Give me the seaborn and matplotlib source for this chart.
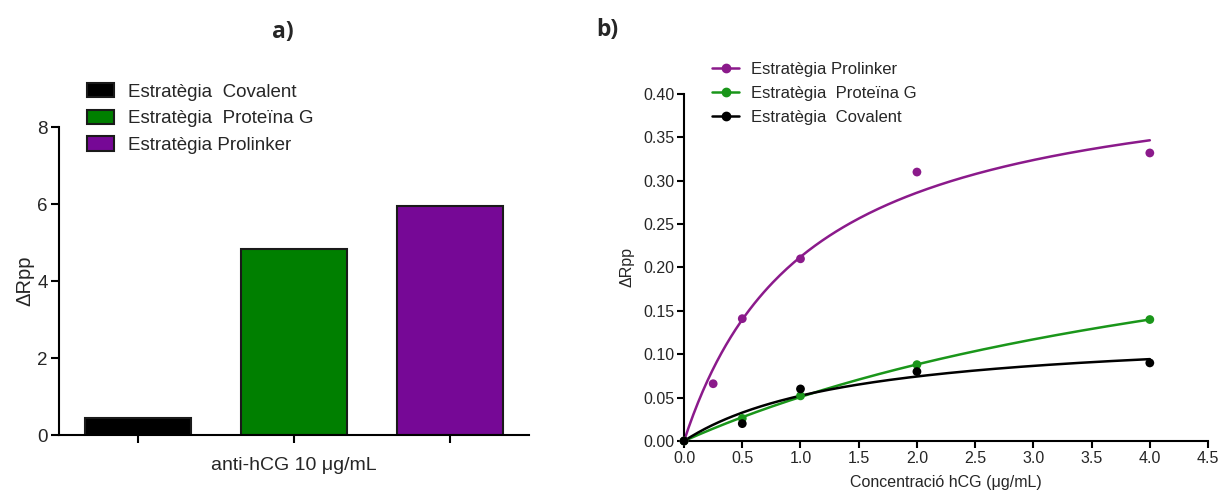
import numpy as np
import pandas as pd
import matplotlib
matplotlib.use("Agg")
import matplotlib.pyplot as plt
from matplotlib.lines import Line2D
from matplotlib.patches import Patch
from matplotlib.ticker import MultipleLocator, FormatStrFormatter
import seaborn as sns

# ---- panel a: response at 10 ug/mL anti-hCG ----
strategies_a = ["Estratègia  Covalent", "Estratègia  Proteïna G", "Estratègia Prolinker"]
delta_rpp_a = [0.43, 4.83, 5.96]
bar_colors = ["#000000", "#007F00", "#760896"]

# ---- panel b: calibration curves vs hCG concentration ----
conc_prolinker = [0.0, 0.25, 0.5, 1.0, 2.0, 4.0]
rpp_prolinker = [0.0, 0.066, 0.141, 0.210, 0.310, 0.332]
conc_proteina_g = [0.0, 0.5, 1.0, 2.0, 4.0]
rpp_proteina_g = [0.0, 0.026, 0.052, 0.088, 0.140]
conc_covalent = [0.0, 0.5, 1.0, 2.0, 4.0]
rpp_covalent = [0.0, 0.020, 0.060, 0.080, 0.090]

series_b = [
    ("Estratègia Prolinker", conc_prolinker, rpp_prolinker, "#8B1A8B"),
    ("Estratègia  Proteïna G", conc_proteina_g, rpp_proteina_g, "#1A961A"),
    ("Estratègia  Covalent", conc_covalent, rpp_covalent, "#000000"),
]


def fit_one_site(x, y):
    """Least-squares one-site binding fit  y = Bmax*x/(Kd+x)."""
    x = np.asarray(x, float)
    y = np.asarray(y, float)
    best = None
    for kd in np.logspace(-2, 2, 4000):
        f = x / (kd + x)
        bmax = np.dot(f, y) / np.dot(f, f)
        sse = np.sum((y - bmax * f) ** 2)
        if best is None or sse < best[0]:
            best = (sse, bmax, kd)
    return best[1], best[2]


sns.set_theme(style="ticks")
plt.rcParams["font.family"] = ["Liberation Sans", "DejaVu Sans"]
plt.rcParams["axes.linewidth"] = 1.5

fig = plt.figure(figsize=(12.2, 4.93), dpi=100)

# ---------------- panel a ----------------
ax_a = fig.add_axes([0.0484, 0.1176, 0.3852, 0.6247])
df_a = pd.DataFrame({"strategy": strategies_a, "rpp": delta_rpp_a})
sns.barplot(data=df_a, x="strategy", y="rpp", hue="strategy",
            palette=bar_colors, saturation=1, width=0.68, edgecolor="#1a1a1a",
            linewidth=1.5, legend=False, ax=ax_a)
ax_a.set_xlim(-0.505, 2.505)
ax_a.set_ylim(0, 8)
ax_a.set_yticks([0, 2, 4, 6, 8])
ax_a.set_xticks([0, 1, 2])
ax_a.set_xticklabels(["", "", ""])
ax_a.tick_params(axis="both", length=6, width=1.5, labelsize=13.5, color="black", pad=2)
ax_a.set_ylabel("ΔRpp", fontsize=14.5, labelpad=2)
ax_a.set_xlabel("anti-hCG 10 μg/mL", fontsize=14, labelpad=8)
for side in ("top", "right"):
    ax_a.spines[side].set_visible(False)
for side in ("left", "bottom"):
    ax_a.spines[side].set_color("black")

handles_a = [Patch(facecolor=c, edgecolor="#1a1a1a", linewidth=1.5) for c in bar_colors]
fig.legend(handles_a, strategies_a, loc="upper left",
           bbox_to_anchor=(0.071, 0.832), bbox_transform=fig.transFigure,
           frameon=False, fontsize=13.5, handlelength=1.45, handleheight=0.8,
           handletextpad=0.75, labelspacing=0.48, borderpad=0, borderaxespad=0)

fig.text(0.232, 0.935, "a)", fontsize=16.5, fontweight="bold",
         family=["Open Sans", "DejaVu Sans"], ha="center", va="center")

# ---------------- panel b ----------------
ax_b = fig.add_axes([0.5607, 0.1055, 0.4295, 0.7039])
x_fit = np.linspace(0, 4, 200)
legend_handles = []
for name, xs, ys, col in series_b:
    bmax, kd = fit_one_site(xs, ys)
    df_fit = pd.DataFrame({"conc": x_fit, "rpp": bmax * x_fit / (kd + x_fit)})
    sns.lineplot(data=df_fit, x="conc", y="rpp", color=col, linewidth=1.8, ax=ax_b)
    df_pts = pd.DataFrame({"conc": xs, "rpp": ys})
    sns.scatterplot(data=df_pts, x="conc", y="rpp", color=col, s=40,
                    edgecolor="none", ax=ax_b, zorder=3, clip_on=False)
    legend_handles.append(Line2D([0], [0], color=col, linewidth=1.8,
                                 marker="o", markersize=6))

ax_b.set_xlim(0, 4.5)
ax_b.set_ylim(0, 0.40)
ax_b.xaxis.set_major_locator(MultipleLocator(0.5))
ax_b.yaxis.set_major_locator(MultipleLocator(0.05))
ax_b.xaxis.set_major_formatter(FormatStrFormatter("%.1f"))
ax_b.yaxis.set_major_formatter(FormatStrFormatter("%.2f"))
ax_b.tick_params(axis="both", length=5, width=1.5, labelsize=11.5, color="black", pad=2)
ax_b.set_xlabel("Concentració hCG (μg/mL)", fontsize=11.5, labelpad=7)
ax_b.set_ylabel("ΔRpp", fontsize=11.5, labelpad=6)
for side in ("top", "right"):
    ax_b.spines[side].set_visible(False)
for side in ("left", "bottom"):
    ax_b.spines[side].set_color("black")

fig.legend(legend_handles, [s[0] for s in series_b], loc="upper left",
           bbox_to_anchor=(0.584, 0.875), bbox_transform=fig.transFigure,
           frameon=False, fontsize=12, handlelength=1.6,
           handletextpad=0.7, labelspacing=0.55, borderpad=0, borderaxespad=0)

fig.text(0.498, 0.939, "b)", fontsize=16.5, fontweight="bold",
         family=["Open Sans", "DejaVu Sans"], ha="center", va="center")

fig.savefig("out.png", dpi=100)
